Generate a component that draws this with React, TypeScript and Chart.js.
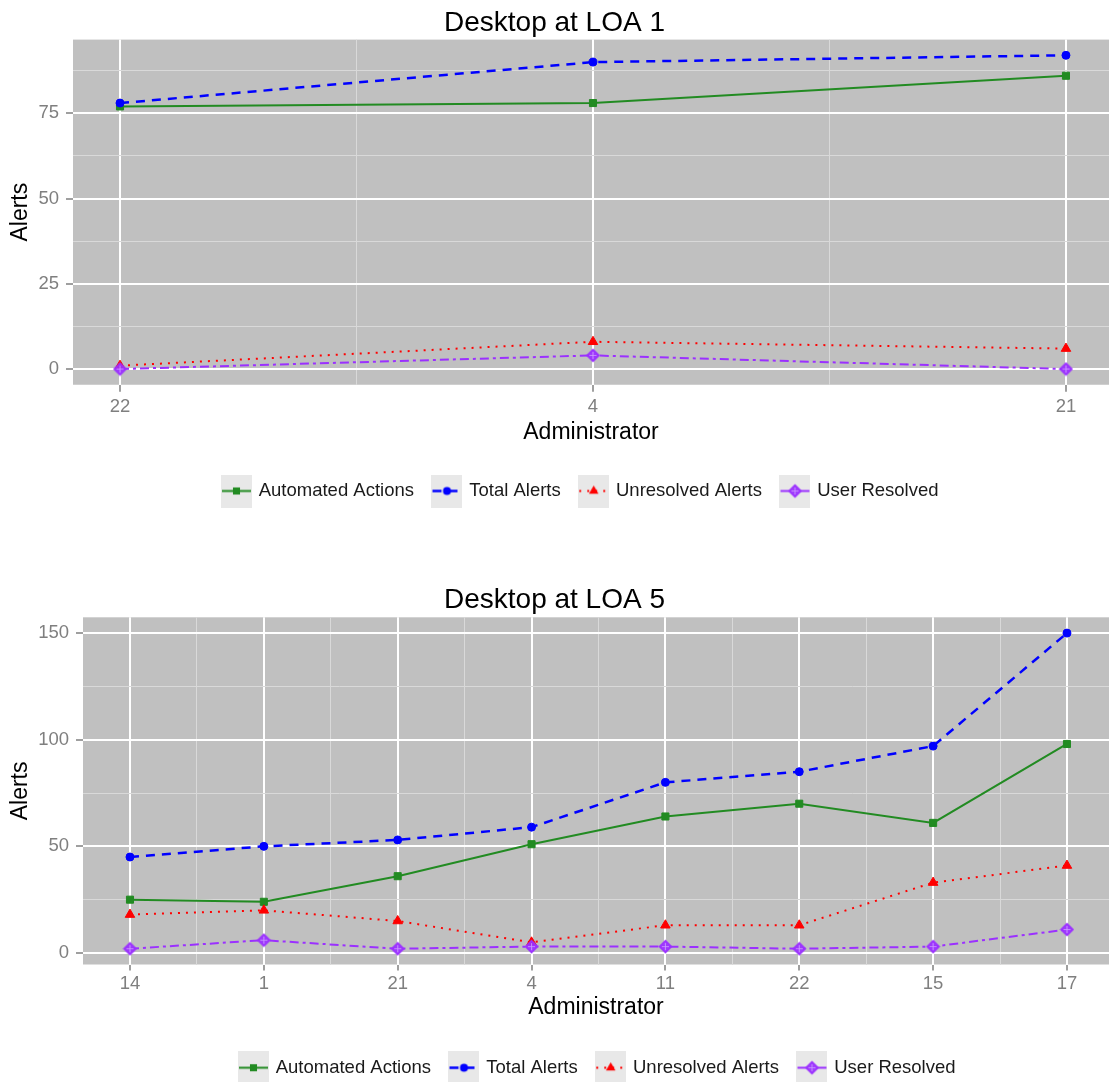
import React, { useEffect, useRef } from 'react';
import { Chart, registerables } from 'chart.js';

Chart.register(...registerables);

const FONT = "'Liberation Sans', Arial, Helvetica, sans-serif";

// ---------- data ----------
const seriesNames = ['Automated Actions', 'Total Alerts', 'Unresolved Alerts', 'User Resolved'];

const loa1Categories = ['22', '4', '21'];
const loa1Automated = [77, 78, 86];
const loa1Total = [78, 90, 92];
const loa1Unresolved = [1, 8, 6];
const loa1UserResolved = [0, 4, 0];
const loa1YTicks = [0, 25, 50, 75];

const loa5Categories = ['14', '1', '21', '4', '11', '22', '15', '17'];
const loa5Automated = [25, 24, 36, 51, 64, 70, 61, 98];
const loa5Total = [45, 50, 53, 59, 80, 85, 97, 150];
const loa5Unresolved = [18, 20, 15, 5, 13, 13, 33, 41];
const loa5UserResolved = [2, 6, 2, 3, 3, 2, 3, 11];
const loa5YTicks = [0, 50, 100, 150];

// ---------- styles ----------
type Marker = 'rect' | 'circle' | 'triangle' | 'diamondPlus';
interface SeriesStyle { color: string; dash: number[]; marker: Marker; radius: number; width: number; }

const SERIES_STYLES: SeriesStyle[] = [
  { color: '#228B22', dash: [], marker: 'rect', radius: 5, width: 2 },
  { color: '#0000FF', dash: [9, 7], marker: 'circle', radius: 4, width: 2.5 },
  { color: '#FF0000', dash: [2, 6], marker: 'triangle', radius: 5.5, width: 2 },
  { color: '#9B30FF', dash: [9, 4, 3, 4], marker: 'diamondPlus', radius: 6, width: 2 },
];

function makeDiamondPlus(color: string, r: number): HTMLCanvasElement {
  const s = Math.ceil(r * 2 + 3);
  const c = document.createElement('canvas');
  c.width = s; c.height = s;
  const g = c.getContext('2d')!;
  const m = s / 2;
  g.beginPath();
  g.moveTo(m, m - r); g.lineTo(m + r, m); g.lineTo(m, m + r); g.lineTo(m - r, m); g.closePath();
  g.fillStyle = 'rgba(155,48,255,0.92)';
  g.fill();
  g.strokeStyle = color; g.lineWidth = 1.5; g.stroke();
  g.beginPath();
  g.moveTo(m, m - r + 2.5); g.lineTo(m, m + r - 2.5);
  g.moveTo(m - r + 2.5, m); g.lineTo(m + r - 2.5, m);
  g.strokeStyle = 'rgba(205,160,255,0.8)'; g.lineWidth = 1; g.stroke();
  return c;
}

function drawMarker(g: CanvasRenderingContext2D, st: SeriesStyle, x: number, y: number, img: HTMLCanvasElement | null) {
  g.setLineDash([]);
  g.fillStyle = st.color;
  g.strokeStyle = st.color;
  if (st.marker === 'rect') {
    const h = st.radius * Math.SQRT1_2;
    g.fillRect(x - h, y - h, 2 * h, 2 * h);
  } else if (st.marker === 'circle') {
    g.beginPath(); g.arc(x, y, st.radius, 0, Math.PI * 2); g.fill();
  } else if (st.marker === 'triangle') {
    const r = st.radius;
    g.beginPath();
    for (let k = 0; k < 3; k++) {
      const a = k * 2 * Math.PI / 3;
      const px = x + Math.sin(a) * r, py = y - Math.cos(a) * r;
      if (k === 0) g.moveTo(px, py); else g.lineTo(px, py);
    }
    g.closePath(); g.fill();
  } else if (img) {
    g.drawImage(img, x - img.width / 2, y - img.height / 2);
  }
}

function makeKey(st: SeriesStyle, img: HTMLCanvasElement | null): HTMLCanvasElement {
  const w = 31, h = 33;
  const c = document.createElement('canvas');
  c.width = w; c.height = h;
  const g = c.getContext('2d')!;
  g.fillStyle = '#e8e8e8';
  g.fillRect(0, 0, w, h);
  g.strokeStyle = st.color;
  g.lineWidth = st.width;
  g.setLineDash(st.dash);
  g.beginPath(); g.moveTo(1, h / 2); g.lineTo(w - 1, h / 2); g.stroke();
  drawMarker(g, st, w / 2, h / 2, img);
  return c;
}

// ---------- panel specs ----------
interface PanelSpec {
  title: string;
  categories: string[];
  series: number[][];
  yLabels: number[];
  yMin: number; yMax: number; xMin: number; xMax: number;
  height: number; padTop: number; padBottom: number;
  yAxisWidth: number; xAxisHeight: number; xTitlePad: number;
  xTickLength: number; xTickPadding: number; legendShift: number;
}

const panel1: PanelSpec = {
  title: 'Desktop at LOA 1',
  categories: loa1Categories,
  series: [loa1Automated, loa1Total, loa1Unresolved, loa1UserResolved],
  yLabels: loa1YTicks,
  yMin: -4.6, yMax: 96.6, xMin: -0.0994, xMax: 2.091,
  height: 545, padTop: 6, padBottom: 34.75,
  yAxisWidth: 73, xAxisHeight: 77, xTitlePad: 15,
  xTickLength: 7, xTickPadding: 3.7, legendShift: 26.5,
};

const panel2: PanelSpec = {
  title: 'Desktop at LOA 5',
  categories: loa5Categories,
  series: [loa5Automated, loa5Total, loa5Unresolved, loa5UserResolved],
  yLabels: loa5YTicks,
  yMin: -5.4, yMax: 157.4, xMin: -0.351, xMax: 7.314,
  height: 542, padTop: 38.7, padBottom: 0,
  yAxisWidth: 83, xAxisHeight: 74, xTitlePad: 17.5,
  xTickLength: 6, xTickPadding: 2, legendShift: 43.5,
};

function buildChart(canvas: HTMLCanvasElement, p: PanelSpec): Chart {
  const diamond = makeDiamondPlus(SERIES_STYLES[3].color, SERIES_STYLES[3].radius);
  const keys = SERIES_STYLES.map((st) => makeKey(st, st.marker === 'diamondPlus' ? diamond : null));

  const step = p.yLabels[1] - p.yLabels[0];
  const yMinor: number[] = [];
  p.yLabels.forEach((m) => { if (m + step / 2 < p.yMax) yMinor.push(m + step / 2); });
  const yTicks = [...p.yLabels, ...yMinor].sort((a, b) => a - b);
  const xTicks: number[] = [];
  p.categories.forEach((_, i) => {
    xTicks.push(i);
    if (i + 0.5 < p.xMax) xTicks.push(i + 0.5);
  });

  const isYMajor = (v: number) => p.yLabels.some((m) => Math.abs(m - v) < 1e-6);
  const isXMajor = (v: number) => Math.abs(v - Math.round(v)) < 1e-6;

  const datasets = seriesNames.map((name, i) => {
    const st = SERIES_STYLES[i];
    return {
      label: name,
      data: p.series[i].map((v, j) => ({ x: j, y: v })),
      borderColor: st.color,
      backgroundColor: st.color,
      borderWidth: st.width,
      borderDash: st.dash,
      borderCapStyle: 'butt' as const,
      tension: 0,
      pointStyle: st.marker === 'diamondPlus' ? diamond : st.marker,
      pointRadius: st.radius,
      pointHoverRadius: st.radius,
      pointBackgroundColor: st.color,
      pointBorderColor: st.color,
      pointBorderWidth: 1,
      fill: false,
      clip: false as any,
      order: 3 - i,
    };
  });

  const gridFor = (isMajor: (v: number) => boolean, tickLength: number) => ({
    display: true,
    drawOnChartArea: true,
    drawTicks: true,
    tickLength,
    tickWidth: 1.5,
    color: (c: any) => (c.tick && isMajor(c.tick.value) ? '#ffffff' : '#d9d9d9'),
    lineWidth: (c: any) => (c.tick && isMajor(c.tick.value) ? 2 : 1),
    tickColor: (c: any) => (c.tick && isMajor(c.tick.value) ? '#7f7f7f' : 'rgba(0,0,0,0)'),
  });

  const panelBg = {
    id: 'panelBg',
    beforeDraw(chart: any) {
      const { ctx, chartArea } = chart;
      ctx.save();
      ctx.fillStyle = '#c0c0c0';
      ctx.fillRect(chartArea.left, chartArea.top, chartArea.right - chartArea.left, chartArea.bottom - chartArea.top);
      ctx.restore();
    },
  };
  const shiftLegend = {
    id: 'shiftLegend',
    afterLayout(chart: any) {
      if (chart.legend) {
        chart.legend.left += p.legendShift;
        chart.legend.right += p.legendShift;
      }
    },
  };

  return new Chart(canvas, {
    type: 'line',
    data: { datasets: datasets as any },
    options: {
      responsive: false,
      devicePixelRatio: 1,
      animation: false,
      events: [],
      layout: { autoPadding: false, padding: { top: p.padTop, bottom: p.padBottom, left: 0, right: 0 } },
      scales: {
        x: {
          type: 'linear',
          min: p.xMin,
          max: p.xMax,
          afterBuildTicks: (s: any) => { s.ticks = xTicks.map((v) => ({ value: v })); },
          afterFit: (s: any) => { s.height = p.xAxisHeight; },
          border: { display: false },
          grid: gridFor(isXMajor, p.xTickLength) as any,
          ticks: {
            autoSkip: false,
            maxRotation: 0,
            minRotation: 0,
            padding: p.xTickPadding,
            color: '#7f7f7f',
            font: { family: FONT, size: 18.5 },
            callback: (v: any) => {
              const n = Number(v);
              return isXMajor(n) ? (p.categories[Math.round(n)] ?? '') : '';
            },
          },
          title: {
            display: true,
            text: 'Administrator',
            color: '#000000',
            font: { family: FONT, size: 23 },
            padding: { top: 0, bottom: p.xTitlePad },
          },
        },
        y: {
          type: 'linear',
          min: p.yMin,
          max: p.yMax,
          afterBuildTicks: (s: any) => { s.ticks = yTicks.map((v) => ({ value: v })); },
          afterFit: (s: any) => { s.width = p.yAxisWidth; },
          border: { display: false },
          grid: gridFor(isYMajor, 7) as any,
          ticks: {
            padding: 7,
            color: '#7f7f7f',
            font: { family: FONT, size: 18.5 },
            callback: (v: any) => (isYMajor(Number(v)) ? String(v) : ''),
          },
          title: {
            display: true,
            text: 'Alerts',
            color: '#000000',
            font: { family: FONT, size: 23 },
            padding: { top: 7, bottom: 0 },
          },
        },
      },
      plugins: {
        title: {
          display: true,
          text: p.title,
          color: '#000000',
          font: { family: FONT, size: 28, weight: 'normal' as any },
          padding: { top: 0, bottom: 0 },
        },
        legend: {
          display: true,
          position: 'bottom',
          onClick: () => {},
          labels: {
            usePointStyle: true,
            pointStyleWidth: 26,
            padding: 20,
            color: '#1a1a1a',
            font: { family: FONT, size: 18.5 },
            generateLabels: () =>
              seriesNames.map((n, i) => ({
                text: n,
                pointStyle: keys[i] as any,
                fillStyle: 'rgba(0,0,0,0)',
                strokeStyle: 'rgba(0,0,0,0)',
                lineWidth: 0,
                hidden: false,
                datasetIndex: i,
                fontColor: '#1a1a1a',
              })),
          },
        },
        tooltip: { enabled: false },
      },
    },
    plugins: [panelBg, shiftLegend],
  });
}

export default function App() {
  const ref1 = useRef<HTMLCanvasElement>(null);
  const ref2 = useRef<HTMLCanvasElement>(null);

  useEffect(() => {
    const c1 = buildChart(ref1.current!, panel1);
    const c2 = buildChart(ref2.current!, panel2);
    return () => {
      c1.destroy();
      c2.destroy();
    };
  }, []);

  return (
    <div
      style={{
        position: 'fixed',
        left: 0,
        top: 0,
        width: 1109,
        height: 1082,
        overflow: 'hidden',
        background: '#ffffff',
      }}
    >
      <canvas ref={ref1} width={1109} height={panel1.height} style={{ display: 'block', width: 1109, height: panel1.height }} />
      <canvas ref={ref2} width={1109} height={panel2.height} style={{ display: 'block', width: 1109, height: panel2.height }} />
    </div>
  );
}
